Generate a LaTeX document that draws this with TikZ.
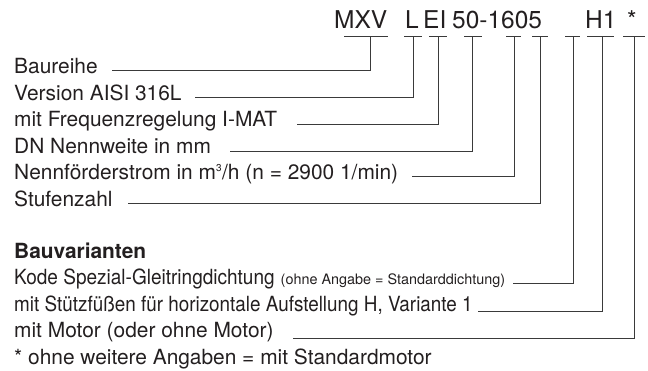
\documentclass[tikz,border=0pt]{standalone}
\usepackage{fontspec}
\usepackage{graphicx}
\setmainfont{TeX Gyre Heros}
\definecolor{ink}{HTML}{231F20}
\definecolor{ln}{HTML}{3A3A3A}
\begin{document}
\begin{tikzpicture}[x=1pt,y=-1pt,
  lbl/.style={anchor=base west, inner sep=0pt, text=ink, font=\fontsize{20.9}{25}\selectfont},
  code/.style={anchor=base west, inner sep=0pt, text=ink, font=\fontsize{24.5}{28}\selectfont},
  ldr/.style={draw=ln, line width=0.85pt},
]
\useasboundingbox (0,0) rectangle (648,370);
% type code
\node[code] (mxv) at (334,28) {MXV};
\node[code] (l) at (405,28) {L};
\node[code] (ei) at (423,28) {EI};
\node[code] (num) at (452,28) {50-1605};
\node[code] (h) at (585,28) {H1};
\node[code] (st) at (627,28) {*};
% bars under the code
\coordinate (b1) at (370,36); \draw[ldr] (344,36) -- (388,36);
\coordinate (b2) at (413,36); \draw[ldr] (404,36) -- (422,36);
\coordinate (b3) at (438,36); \draw[ldr] (429,36) -- (447,36);
\coordinate (b4) at (472,36); \draw[ldr] (464,36) -- (482,36);
\coordinate (b5) at (514,36); \draw[ldr] (506,36) -- (521,36);
\coordinate (b6) at (540,36); \draw[ldr] (532,36) -- (548,36);
\coordinate (b7) at (573,36); \draw[ldr] (565,36) -- (580,36);
\coordinate (b8) at (602,36); \draw[ldr] (587,36) -- (614,36);
\coordinate (b9) at (634,36); \draw[ldr] (623,36) -- (645,36);
% labels
\node[lbl] (t1) at (14,73.3) {Baureihe};
\node[lbl] (t2) at (14,100) {Version AISI 316L};
\node[lbl] (t3) at (14,126.5) {mit Frequenzregelung I-MAT};
\node[lbl] (t4) at (14,153) {DN Nennweite in mm};
\node[lbl] (t5) at (14,179.5) {Nennförderstrom in m\textsuperscript{\fontsize{10}{10}\selectfont 3}/h (n = 2900 1/min)};
\node[lbl] (t6) at (14,206) {Stufenzahl};
\node[lbl, font=\fontsize{20.9}{25}\selectfont\bfseries] (tb) at (14,258) {Bauvarianten};
\node[lbl] (t7) at (14,284.5) {\scalebox{0.91}[1]{Kode Spezial-Gleitringdichtung}\hspace{6pt}{\fontsize{14.4}{17}\selectfont(ohne Angabe = Standarddichtung)}};
\node[lbl] (t8) at (14,311) {\scalebox{0.903}[1]{mit Stützfüßen für horizontale Aufstellung H, Variante 1}};
\node[lbl] (t9) at (14,337.5) {mit Motor (oder ohne Motor)};
\node[lbl] (t10) at (14,364) {* ohne weitere Angaben = mit Standardmotor};
% leader starts
\coordinate (s1) at (112,70);
\coordinate (s2) at (195,97);
\coordinate (s3) at (297,124);
\coordinate (s4) at (230,151);
\coordinate (s5) at (412,176);
\coordinate (s6) at (128,203);
\coordinate (s7) at (513,283);
\coordinate (s8) at (478,311);
\coordinate (s9) at (293,338);
% leaders
\draw[ldr] (s1) -| (b1);
\draw[ldr] (s2) -| (b2);
\draw[ldr] (s3) -| (b3);
\draw[ldr] (s4) -| (b4);
\draw[ldr] (s5) -| (b5);
\draw[ldr] (s6) -| (b6);
\draw[ldr] (s7) -| (b7);
\draw[ldr] (s8) -| (b8);
\draw[ldr] (s9) -| (b9);
\end{tikzpicture}
\end{document}
